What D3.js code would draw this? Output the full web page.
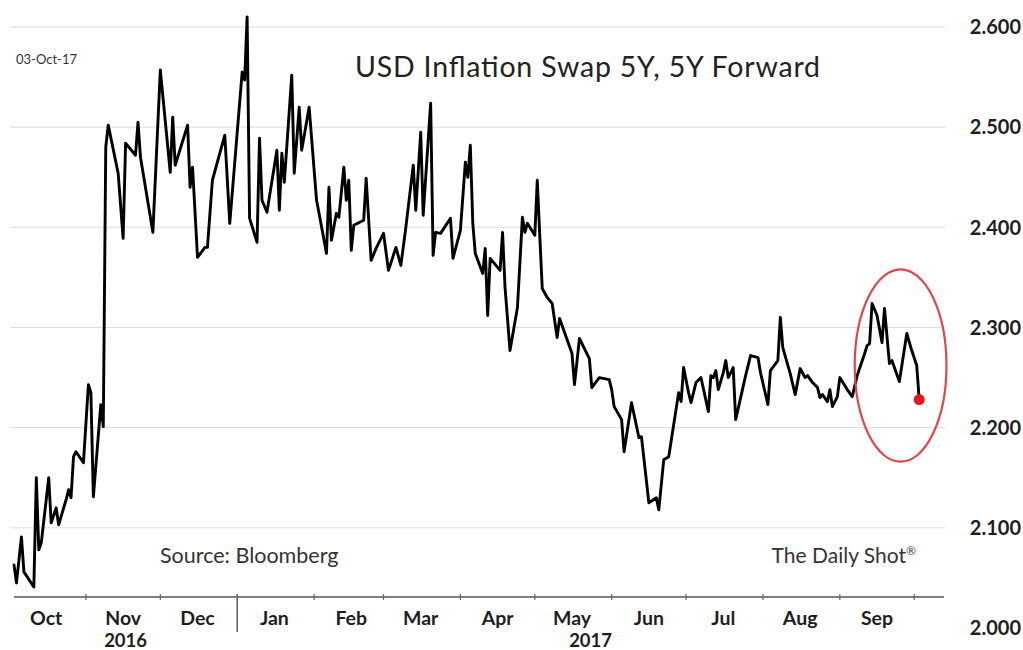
<!DOCTYPE html>
<html>
<head>
<meta charset="utf-8">
<script src="https://cdn.jsdelivr.net/npm/d3@7"></script>
<style>
  html, body { margin: 0; padding: 0; background: #fff; }
  svg { display: block; font-family: Lato, "Open Sans", sans-serif; }
</style>
</head>
<body>
<svg id="chart" width="1023" height="650"></svg>
<script>
// USD 5y5y inflation swap, daily closes
const dates = [
  "2016-10-03","2016-10-04","2016-10-06","2016-10-07","2016-10-11","2016-10-12","2016-10-13","2016-10-14",
  "2016-10-17","2016-10-18","2016-10-20","2016-10-21","2016-10-24","2016-10-25","2016-10-26","2016-10-27",
  "2016-10-28","2016-10-31","2016-11-02","2016-11-03","2016-11-04","2016-11-07","2016-11-08","2016-11-09",
  "2016-11-10","2016-11-14","2016-11-16","2016-11-17","2016-11-21","2016-11-22","2016-11-23","2016-11-28",
  "2016-12-01","2016-12-05","2016-12-06","2016-12-07","2016-12-12","2016-12-13","2016-12-14","2016-12-16",
  "2016-12-19","2016-12-20","2016-12-22","2016-12-27","2016-12-29","2017-01-03","2017-01-04","2017-01-05",
  "2017-01-06","2017-01-09","2017-01-10","2017-01-11","2017-01-13","2017-01-17","2017-01-18","2017-01-19",
  "2017-01-20","2017-01-23","2017-01-24","2017-01-26","2017-01-27","2017-01-30","2017-02-02","2017-02-03",
  "2017-02-06","2017-02-07","2017-02-08","2017-02-10","2017-02-11","2017-02-13","2017-02-14","2017-02-15",
  "2017-02-16","2017-02-17","2017-02-21","2017-02-22","2017-02-24","2017-02-26","2017-03-01","2017-03-03",
  "2017-03-06","2017-03-08","2017-03-10","2017-03-13","2017-03-14","2017-03-16","2017-03-17","2017-03-20",
  "2017-03-21","2017-03-22","2017-03-24","2017-03-28","2017-03-29","2017-04-01","2017-04-03","2017-04-04",
  "2017-04-05","2017-04-06","2017-04-07","2017-04-10","2017-04-11","2017-04-12","2017-04-13","2017-04-16",
  "2017-04-17","2017-04-18","2017-04-19","2017-04-21","2017-04-24","2017-04-26","2017-04-27","2017-04-28",
  "2017-05-01","2017-05-02","2017-05-03","2017-05-04","2017-05-06","2017-05-08","2017-05-10","2017-05-11",
  "2017-05-12","2017-05-16","2017-05-17","2017-05-19","2017-05-23","2017-05-24","2017-05-27","2017-05-31",
  "2017-06-01","2017-06-02","2017-06-05","2017-06-06","2017-06-09","2017-06-12","2017-06-13","2017-06-16",
  "2017-06-19","2017-06-20","2017-06-22","2017-06-24","2017-06-26","2017-06-28","2017-06-29","2017-06-30",
  "2017-07-02","2017-07-03","2017-07-05","2017-07-07","2017-07-10","2017-07-11","2017-07-12","2017-07-13",
  "2017-07-14","2017-07-16","2017-07-17","2017-07-18","2017-07-20","2017-07-21","2017-07-25","2017-07-26",
  "2017-07-27","2017-07-30","2017-07-31","2017-08-03","2017-08-04","2017-08-07","2017-08-08","2017-08-09",
  "2017-08-12","2017-08-14","2017-08-16","2017-08-18","2017-08-19","2017-08-21","2017-08-23","2017-08-24",
  "2017-08-25","2017-08-27","2017-08-28","2017-08-29","2017-08-31","2017-09-01","2017-09-04","2017-09-06",
  "2017-09-08","2017-09-11","2017-09-12","2017-09-13","2017-09-14","2017-09-16","2017-09-18","2017-09-19",
  "2017-09-21","2017-09-22","2017-09-25","2017-09-28","2017-09-30","2017-10-02","2017-10-03"
];
const swapRate = [
  2.063,2.045,2.091,2.056,2.041,2.150,2.078,2.085,
  2.150,2.105,2.120,2.103,2.128,2.138,2.130,2.171,
  2.176,2.165,2.243,2.235,2.131,2.223,2.201,2.480,
  2.502,2.454,2.389,2.484,2.472,2.505,2.470,2.395,
  2.557,2.455,2.510,2.462,2.502,2.440,2.460,2.370,
  2.380,2.380,2.447,2.492,2.404,2.555,2.547,2.610,
  2.409,2.385,2.489,2.427,2.415,2.477,2.417,2.474,
  2.445,2.552,2.454,2.520,2.477,2.520,2.427,2.414,
  2.374,2.440,2.387,2.414,2.410,2.460,2.427,2.447,
  2.377,2.402,2.407,2.449,2.367,2.379,2.394,2.357,
  2.380,2.362,2.400,2.462,2.417,2.495,2.412,2.524,
  2.372,2.395,2.394,2.409,2.369,2.397,2.465,2.450,
  2.482,2.404,2.374,2.354,2.379,2.312,2.369,2.360,
  2.357,2.395,2.340,2.277,2.320,2.410,2.395,2.404,
  2.392,2.447,2.392,2.339,2.330,2.324,2.290,2.309,
  2.302,2.274,2.243,2.289,2.269,2.240,2.250,2.248,
  2.238,2.221,2.208,2.176,2.225,2.190,2.191,2.125,
  2.130,2.118,2.168,2.171,2.203,2.235,2.226,2.260,
  2.235,2.225,2.245,2.250,2.216,2.252,2.250,2.257,
  2.238,2.255,2.267,2.250,2.260,2.208,2.252,2.262,
  2.272,2.270,2.255,2.223,2.257,2.267,2.310,2.280,
  2.254,2.233,2.259,2.250,2.252,2.245,2.240,2.230,
  2.233,2.226,2.238,2.221,2.231,2.250,2.238,2.231,
  2.252,2.274,2.282,2.284,2.324,2.312,2.285,2.319,
  2.264,2.267,2.246,2.294,2.277,2.262,2.228
];

const yTicks = [2.0, 2.1, 2.2, 2.3, 2.4, 2.5, 2.6];
const axisStart = "2016-10-03";
const axisEnd = "2017-10-13";
const yearLabels = ["2016", "2017"];
const yearSpans = [["2016-10-03", "2017-01-01"], ["2017-01-01", "2017-10-13"]];
const titleText = "USD Inflation Swap 5Y, 5Y Forward";
const dateStamp = "03-Oct-17";
const sourceText = "Source: Bloomberg";
const brandText = "The Daily Shot";
// highlighted window around the recent move
const focusDates = ["2017-09-07", "2017-10-14"];
const focusRange = [2.166, 2.358];

const parse = d3.utcParse("%Y-%m-%d");
const series = dates.map((d, i) => ({ date: parse(d), value: swapRate[i] }));

const svg = d3.select("#chart");
const plotLeft = 10, plotRight = 945, axisY = 597;

const x = d3.scaleUtc()
  .domain([parse(axisStart), parse(axisEnd)])
  .range([14, 944]);
const y = d3.scaleLinear()
  .domain([2.0, 2.6])
  .range([628, 27]);

// horizontal gridlines
svg.append("g")
  .selectAll("line")
  .data(yTicks.filter(t => y(t) < axisY))
  .join("line")
  .attr("x1", plotLeft).attr("x2", plotRight)
  .attr("y1", d => y(d)).attr("y2", d => y(d))
  .attr("stroke", "#dcdcdc").attr("stroke-width", 1);

// right-hand value labels
svg.append("g")
  .selectAll("text")
  .data(yTicks)
  .join("text")
  .attr("x", 1021)
  .attr("y", d => y(d))
  .attr("dy", "0.36em")
  .attr("text-anchor", "end")
  .attr("font-size", 20)
  .attr("font-weight", 700)
  .attr("fill", "#1e1e1e")
  .text(d => d3.format(".3f")(d));

// date axis
const axisG = svg.append("g");
axisG.append("line")
  .attr("x1", x(parse(axisStart))).attr("x2", x(parse(axisEnd)))
  .attr("y1", axisY).attr("y2", axisY)
  .attr("stroke", "#555").attr("stroke-width", 1.6);

const monthStarts = d3.utcMonths(d3.utcMonth.ceil(parse(axisStart)), parse(axisEnd));
axisG.selectAll("line.tick")
  .data(monthStarts)
  .join("line")
  .attr("class", "tick")
  .attr("x1", d => x(d)).attr("x2", d => x(d))
  .attr("y1", axisY - 3)
  .attr("y2", d => d.getUTCMonth() === 0 ? 632 : axisY + 3)
  .attr("stroke", "#666").attr("stroke-width", d => d.getUTCMonth() === 0 ? 1.6 : 1.2);

const months = d3.utcMonths(d3.utcMonth.floor(parse(axisStart)), d3.utcMonth.floor(parse(axisEnd)));
axisG.selectAll("text.month")
  .data(months)
  .join("text")
  .attr("class", "month")
  .attr("x", d => x(d3.utcDay.offset(d, 15)))
  .attr("y", 625)
  .attr("text-anchor", "middle")
  .attr("font-size", 19.5)
  .attr("font-weight", 700)
  .attr("fill", "#1e1e1e")
  .text(d => d3.utcFormat("%b")(d));

axisG.selectAll("text.year")
  .data(yearLabels)
  .join("text")
  .attr("class", "year")
  .attr("x", (d, i) => (x(parse(yearSpans[i][0])) + x(parse(yearSpans[i][1]))) / 2)
  .attr("y", 647)
  .attr("text-anchor", "middle")
  .attr("font-size", 18.5)
  .attr("font-weight", 700)
  .attr("fill", "#1e1e1e")
  .text(d => d);

// the series
const line = d3.line()
  .x(d => x(d.date))
  .y(d => y(d.value));
svg.append("path")
  .datum(series)
  .attr("d", line)
  .attr("fill", "none")
  .attr("stroke", "#000")
  .attr("stroke-width", 2.9)
  .attr("stroke-linejoin", "round")
  .attr("stroke-linecap", "round");

// latest print
const last = series[series.length - 1];
svg.append("circle")
  .attr("cx", x(last.date)).attr("cy", y(last.value))
  .attr("r", 5.5)
  .attr("fill", "#e8161b");

// circled recent move
const fx0 = x(parse(focusDates[0])), fx1 = x(parse(focusDates[1]));
const fy0 = y(focusRange[1]), fy1 = y(focusRange[0]);
svg.append("ellipse")
  .attr("cx", (fx0 + fx1) / 2).attr("cy", (fy0 + fy1) / 2)
  .attr("rx", (fx1 - fx0) / 2).attr("ry", (fy1 - fy0) / 2)
  .attr("fill", "none")
  .attr("stroke", "#e0474d")
  .attr("stroke-width", 2.2);

// texts
svg.append("text")
  .attr("x", 355).attr("y", 77)
  .attr("font-size", 28.5)
  .attr("textLength", 465)
  .attr("lengthAdjust", "spacing")
  .attr("fill", "#222")
  .text(titleText);

svg.append("text")
  .attr("x", 16).attr("y", 64)
  .attr("font-size", 13)
  .attr("fill", "#333")
  .text(dateStamp);

svg.append("text")
  .attr("x", 160).attr("y", 563)
  .attr("font-size", 21.5)
  .attr("fill", "#333")
  .text(sourceText);

const brand = svg.append("text")
  .attr("x", 916).attr("y", 563)
  .attr("text-anchor", "end")
  .attr("font-size", 21)
  .attr("fill", "#333")
  .text(brandText);
brand.append("tspan")
  .attr("font-size", 12)
  .attr("dy", -8)
  .text("\u00AE");
</script>
</body>
</html>
